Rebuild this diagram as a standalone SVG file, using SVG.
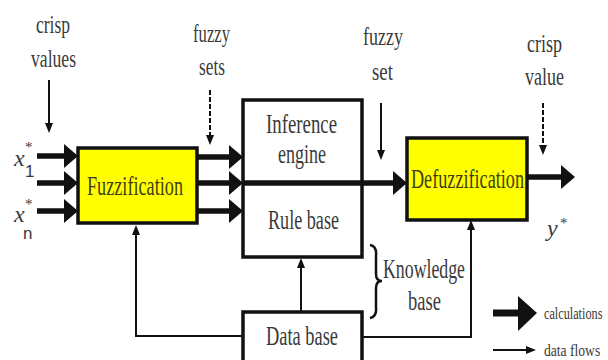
<svg xmlns="http://www.w3.org/2000/svg" width="608" height="360" viewBox="0 0 608 360">
  <style>
    .lbl { font-family: "Liberation Serif", "Times New Roman", serif; font-size: 26px; fill: #3a3a3a; }
    .box-lbl { font-family: "Liberation Serif", "Times New Roman", serif; font-size: 27px; fill: #3a3a3a; }
    .yel-lbl { font-family: "Liberation Serif", "Times New Roman", serif; font-size: 28px; fill: #3f3f14; }
    .leg { font-family: "Liberation Serif", "Times New Roman", serif; font-size: 17px; fill: #3a3a3a; }
    .var { font-family: "Liberation Serif", "Times New Roman", serif; font-style: italic; font-size: 24px; fill: #3a3a3a; }
    .sub { font-family: "Liberation Sans", Arial, sans-serif; font-size: 17px; fill: #3a3a3a; }
    .star { font-family: "Liberation Serif", "Times New Roman", serif; font-size: 15px; fill: #3a3a3a; }
    .yellow { fill: #ffff00; stroke: #111; stroke-width: 3.5; }
    .white { fill: #ffffff; stroke: #111; stroke-width: 3.5; }
    .thick { fill: none; stroke: #111; stroke-width: 5.5; marker-end: url(#head-thick); }
    .thin { fill: none; stroke: #111; stroke-width: 2; marker-end: url(#head-thin); }
    .dashed { stroke-dasharray: 5 2; }
  </style>
  <defs>
    <marker id="head-thick" markerUnits="userSpaceOnUse" viewBox="0 0 14 24" refX="0" refY="12" markerWidth="14" markerHeight="24" orient="auto">
      <path d="M0,0 L14,12 L0,24 z" fill="#111"/>
    </marker>
    <marker id="head-thin" markerUnits="userSpaceOnUse" viewBox="0 0 10 8" refX="0" refY="4" markerWidth="10" markerHeight="8" orient="auto">
      <path d="M0,0 L10,4 L0,8 z" fill="#111"/>
    </marker>
  </defs>

  <rect width="608" height="360" fill="#ffffff"/>

  <!-- top labels with their pointer arrows -->
  <g id="label-crisp-values">
    <text class="lbl" x="36" y="33" textLength="34" lengthAdjust="spacingAndGlyphs">crisp</text>
    <text class="lbl" x="31" y="67" textLength="45" lengthAdjust="spacingAndGlyphs">values</text>
  </g>
  <g id="label-fuzzy-sets">
    <text class="lbl" x="193" y="42" textLength="37" lengthAdjust="spacingAndGlyphs">fuzzy</text>
    <text class="lbl" x="199" y="75" textLength="26" lengthAdjust="spacingAndGlyphs">sets</text>
  </g>
  <g id="label-fuzzy-set">
    <text class="lbl" x="363" y="45" textLength="40" lengthAdjust="spacingAndGlyphs">fuzzy</text>
    <text class="lbl" x="372" y="80" textLength="21" lengthAdjust="spacingAndGlyphs">set</text>
  </g>
  <g id="label-crisp-value">
    <text class="lbl" x="527" y="52" textLength="35" lengthAdjust="spacingAndGlyphs">crisp</text>
    <text class="lbl" x="525" y="85" textLength="39" lengthAdjust="spacingAndGlyphs">value</text>
  </g>

  <!-- input / output variables -->
  <g id="input-x1">
    <text class="var" x="14" y="166">x</text>
    <text class="star" x="25" y="152">*</text>
    <text class="sub" x="25" y="177">1</text>
  </g>
  <g id="input-xn">
    <text class="var" x="14" y="222">x</text>
    <text class="star" x="25" y="209">*</text>
    <text class="sub" x="23" y="239">n</text>
  </g>
  <g id="output-y">
    <text class="var" x="547" y="236">y</text>
    <text class="star" x="560" y="228">*</text>
  </g>

  <!-- blocks -->
  <g id="fuzzification">
    <rect class="yellow" x="78" y="148" width="119" height="75"/>
    <text class="yel-lbl" x="87" y="195" textLength="96" lengthAdjust="spacingAndGlyphs">Fuzzification</text>
  </g>
  <g id="inference-rule-base">
    <rect class="white" x="243" y="100" width="119" height="157"/>
    <text class="box-lbl" x="266" y="133" textLength="71" lengthAdjust="spacingAndGlyphs">Inference</text>
    <text class="box-lbl" x="278" y="163" textLength="48" lengthAdjust="spacingAndGlyphs">engine</text>
    <text class="box-lbl" x="268" y="229" textLength="71" lengthAdjust="spacingAndGlyphs">Rule base</text>
  </g>
  <g id="defuzzification">
    <rect class="yellow" x="407" y="138" width="120" height="82"/>
    <text class="yel-lbl" x="411" y="188" textLength="113" lengthAdjust="spacingAndGlyphs">Defuzzification</text>
  </g>
  <g id="data-base">
    <rect class="white" x="243" y="312" width="119" height="60"/>
    <text class="box-lbl" x="266" y="345" textLength="72" lengthAdjust="spacingAndGlyphs">Data base</text>
  </g>
  <g id="knowledge-base">
    <path d="M370,245 Q377,246 376,256 L376,274 Q376,281 382,281 Q376,281 376,288 L376,307 Q377,317 370,318" fill="none" stroke="#111" stroke-width="2.5"/>
    <text class="box-lbl" x="383" y="278" textLength="82" lengthAdjust="spacingAndGlyphs">Knowledge</text>
    <text class="box-lbl" x="408" y="310" textLength="33" lengthAdjust="spacingAndGlyphs">base</text>
  </g>

  <!-- connectors -->
  <g id="connectors">
    <!-- label pointers -->
    <path class="thin" d="M49,80 V123"/>
    <path class="thin dashed" d="M210,90 V135"/>
    <path class="thin" d="M381,103 V150"/>
    <path class="thin dashed" d="M543,103 V145"/>

    <!-- crisp inputs into fuzzification -->
    <path class="thick" d="M37,156 H64"/>
    <path class="thick" d="M37,183 H64"/>
    <path class="thick" d="M37,211 H64"/>

    <!-- fuzzy sets into the inference engine -->
    <path class="thick" d="M197,157 H229"/>
    <path class="thick" d="M197,183 H229"/>
    <path class="thick" d="M197,211 H229"/>

    <!-- inference result into defuzzification -->
    <path class="thick" d="M243,183 H393"/>

    <!-- crisp output -->
    <path class="thick" d="M527,177 H561"/>

    <!-- data base feeds -->
    <path class="thin" d="M243,336 H136 V235"/>
    <path class="thin" d="M362,337 H471 V230"/>
    <path class="thin" d="M301,312 V268"/>
  </g>

  <!-- legend -->
  <g id="legend">
    <path d="M493,313 H519" stroke="#111" stroke-width="7" fill="none"/>
    <path d="M518,296 L537,313 L518,331 z" fill="#111"/>
    <text class="leg" transform="translate(544 319) scale(0.72 1)">calculations</text>
    <path class="thin" d="M493,350 H526"/>
    <text class="leg" transform="translate(544 356) scale(0.8 1)">data flows</text>
  </g>
</svg>
